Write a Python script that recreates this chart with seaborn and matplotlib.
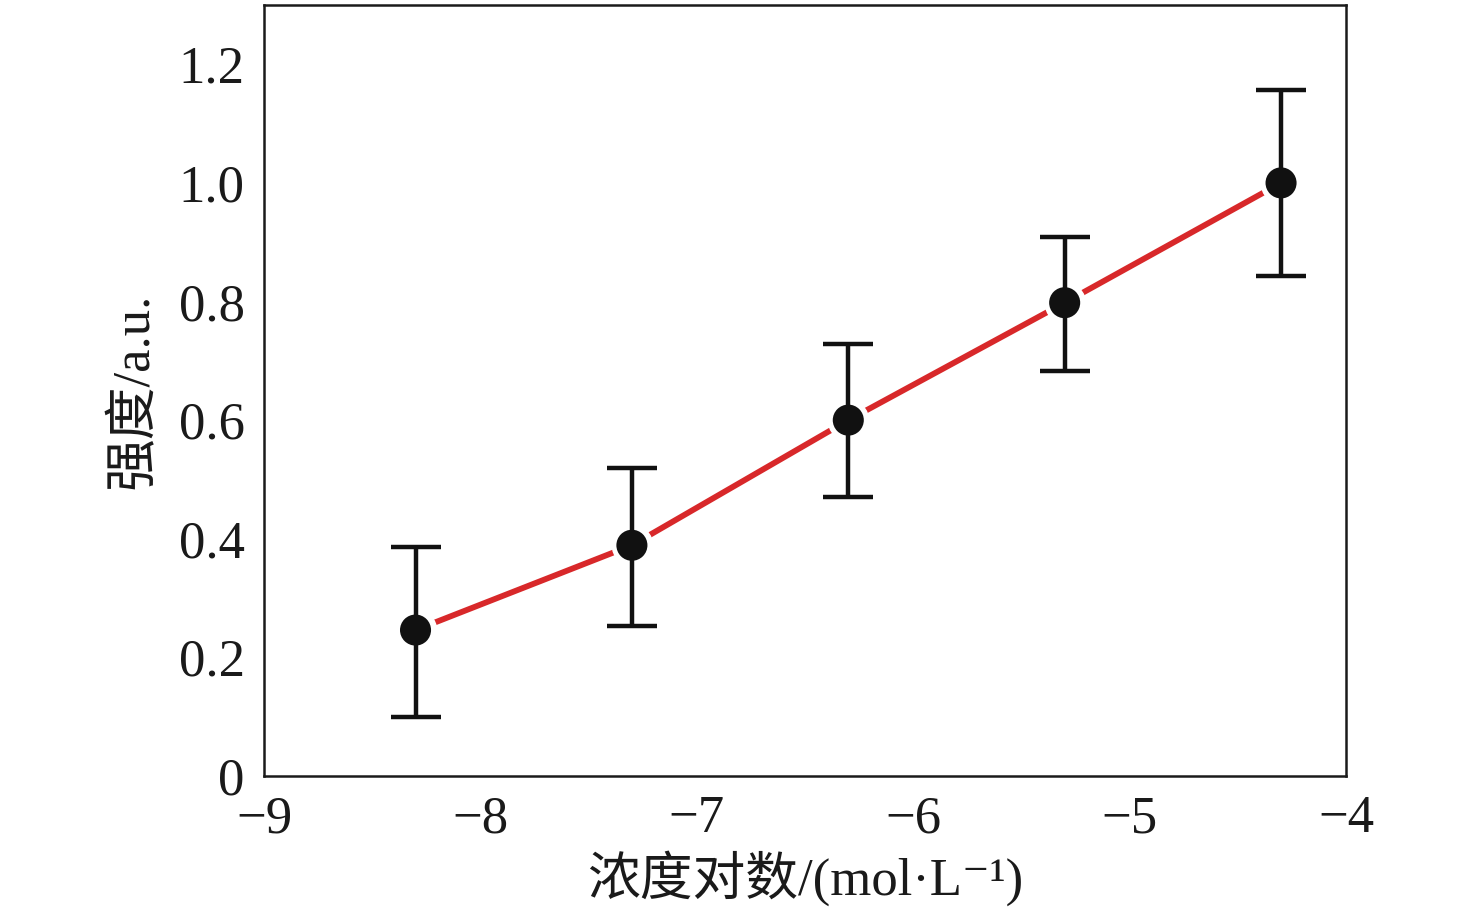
import numpy as np
import pandas as pd
import seaborn as sns
import matplotlib.pyplot as plt

# data
log_conc = [-8.3, -7.3, -6.3, -5.3, -4.3]
intensity = [0.246, 0.389, 0.600, 0.798, 1.000]
err_low = [0.099, 0.253, 0.470, 0.682, 0.843]
err_high = [0.386, 0.520, 0.729, 0.909, 1.157]

x_ticks = [-9, -8, -7, -6, -5, -4]
x_ticklabels = ["\u22129", "\u22128", "\u22127", "\u22126", "\u22125", "\u22124"]
y_ticks = [0, 0.2, 0.4, 0.6, 0.8, 1.0, 1.2]
y_ticklabels = ["0", "0.2", "0.4", "0.6", "0.8", "1.0", "1.2"]

df = pd.DataFrame({"x": log_conc, "y": intensity})
yerr = np.array([np.array(intensity) - np.array(err_low),
                 np.array(err_high) - np.array(intensity)])

sns.set_style("white")
plt.rcParams['font.family'] = ['Liberation Serif', 'Noto Sans CJK SC', 'DejaVu Serif']
plt.rcParams['axes.unicode_minus'] = True

fig = plt.figure(figsize=(14.76, 9.23), dpi=100)
ax = fig.add_axes([0.1789, 0.1593, 0.9119 - 0.1789, 0.9946 - 0.1593])

sns.lineplot(data=df, x="x", y="y", color="#d8282a", linewidth=4.2, ax=ax, zorder=1)
# white halo so the red line stops short of each marker
ax.plot(log_conc, intensity, "o", color="white", markersize=29, zorder=2, linestyle="none")
ax.errorbar(log_conc, intensity, yerr=yerr, fmt="none", ecolor="#111111",
            elinewidth=3.2, capsize=18, capthick=3.2, zorder=3)
sns.scatterplot(data=df, x="x", y="y", color="#111111", s=500, edgecolor="none", ax=ax, zorder=4)

ax.set_xlim(-9, -4)
ax.set_ylim(0, 1.3)
ax.set_xticks(x_ticks)
ax.set_xticklabels(x_ticklabels)
ax.set_yticks(y_ticks)
ax.set_yticklabels(y_ticklabels)

for s in ax.spines.values():
    s.set_visible(True)
    s.set_color("#1a1a1a")
    s.set_linewidth(1.8)

ax.tick_params(axis="both", direction="in", length=10, width=1.8, colors="#1a1a1a",
               labelsize=38, labelcolor="#1a1a1a")
ax.tick_params(axis="x", pad=14)
ax.tick_params(axis="y", pad=14)

ax.set_xlabel("浓度对数/(mol·L\u207b\u00b9)", fontsize=38, color="#1a1a1a", labelpad=5)
ax.set_ylabel("强度/a.u.", fontsize=38, color="#1a1a1a", labelpad=14)

fig.savefig("out.png", dpi=100)
